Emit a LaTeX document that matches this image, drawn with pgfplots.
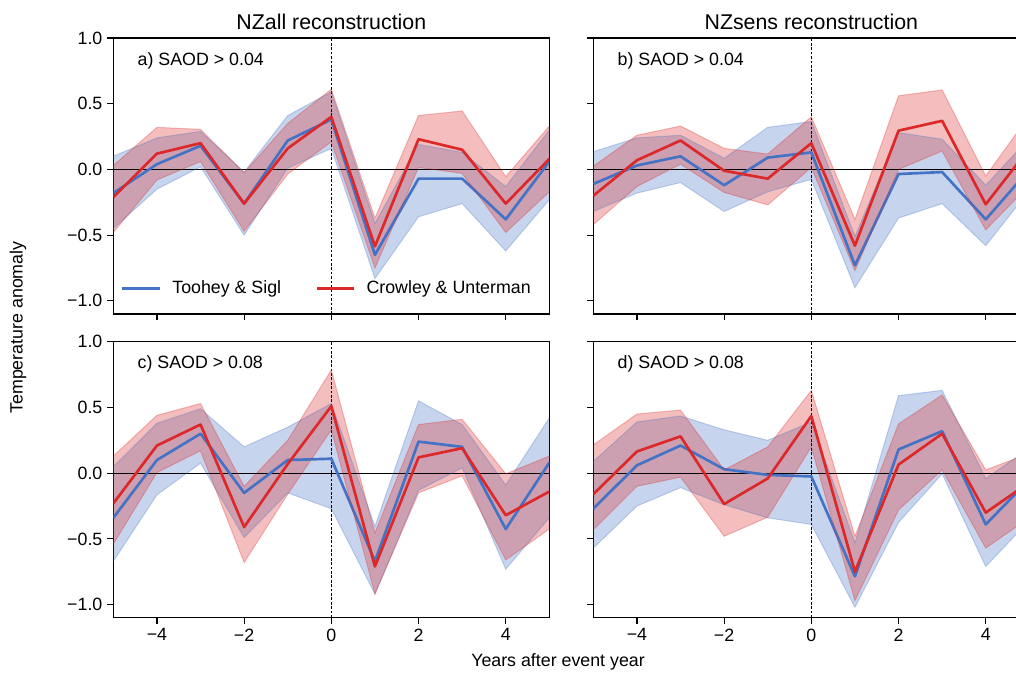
\documentclass[border=0pt]{standalone}
\usepackage{fontspec}
\setmainfont{Liberation Sans}
\usepackage{pgfplots}
\pgfplotsset{compat=1.18}
\usepackage{pgfplotstable}
\usepgfplotslibrary{fillbetween}

\definecolor{tblue}{RGB}{68,114,196}
\definecolor{cred}{RGB}{220,40,40}
\newcommand\fs{\fontsize{13.35pt}{16pt}\selectfont}
\newcommand\ft{\fontsize{16pt}{19pt}\selectfont}

% x, Toohey & Sigl (mean, low, high), Crowley & Unterman (mean, low, high)
\pgfplotstableread{
x  T      Tlo    Thi    C      Clo    Chi
-5 -0.18  -0.45  0.10   -0.21  -0.48  0.03
-4 0.04   -0.15  0.24   0.12   -0.08  0.32
-3 0.18   0.02   0.29   0.20   0.06   0.305
-2 -0.26  -0.50  -0.02  -0.26  -0.47  -0.025
-1 0.22   0.01   0.41   0.16   -0.035 0.35
0  0.38   0.16   0.59   0.40   0.21   0.61
1  -0.65  -0.83  -0.41  -0.585 -0.75  -0.37
2  -0.07  -0.36  0.19   0.23   0.015  0.41
3  -0.07  -0.26  0.13   0.15   -0.03  0.445
4  -0.38  -0.62  -0.13  -0.26  -0.48  -0.055
5  0.06   -0.23  0.30   0.08   -0.17  0.33
}\dataA
\pgfplotstableread{
x  T      Tlo    Thi    C      Clo    Chi
-5 -0.11  -0.32  0.135  -0.20  -0.42  0.025
-4 0.03   -0.18  0.24   0.07   -0.13  0.26
-3 0.10   -0.10  0.26   0.22   0.04   0.33
-2 -0.12  -0.32  0.085  -0.01  -0.175 0.16
-1 0.09   -0.17  0.32   -0.07  -0.27  0.117
0  0.13   -0.075 0.365  0.20   0.015  0.40
1  -0.73  -0.90  -0.51  -0.58  -0.77  -0.38
2  -0.035 -0.37  0.28   0.295  0.0    0.56
3  -0.02  -0.26  0.23   0.37   0.14   0.605
4  -0.38  -0.58  -0.12  -0.265 -0.46  -0.05
5  0.0    -0.16  0.24   0.16   -0.12  0.41
}\dataB
\pgfplotstableread{
x  T      Tlo    Thi    C      Clo    Chi
-5 -0.34  -0.67  0.05   -0.23  -0.54  0.13
-4 0.10   -0.165 0.38   0.21   0.005  0.44
-3 0.30   0.076  0.49   0.37   0.17   0.53
-2 -0.15  -0.49  0.20   -0.41  -0.68  -0.10
-1 0.10   -0.15  0.35   0.07   -0.16  0.25
0  0.11   -0.27  0.53   0.51   0.33   0.785
1  -0.67  -0.92  -0.405 -0.71  -0.92  -0.455
2  0.24   -0.13  0.55   0.12   -0.15  0.37
3  0.20   0.04   0.37   0.19   -0.02  0.41
4  -0.425 -0.73  -0.09  -0.32  -0.66  -0.005
5  0.08   -0.34  0.42   -0.14  -0.425 0.13
}\dataC
\pgfplotstableread{
x  T      Tlo    Thi    C      Clo    Chi
-5 -0.27  -0.57  0.09   -0.16  -0.43  0.215
-4 0.06   -0.25  0.39   0.165  -0.10  0.45
-3 0.21   -0.11  0.435  0.28   -0.03  0.48
-2 0.03   -0.24  0.33   -0.235 -0.48  0.025
-1 -0.013 -0.34  0.25   -0.04  -0.335 0.20
0  -0.025 -0.39  0.39   0.435  0.20   0.63
1  -0.785 -1.02  -0.53  -0.75  -0.97  -0.48
2  0.18   -0.375 0.59   0.065  -0.28  0.375
3  0.32   -0.005 0.63   0.30   0.025  0.595
4  -0.39  -0.71  -0.04  -0.30  -0.57  0.025
5  -0.05  -0.36  0.19   -0.07  -0.34  0.15
}\dataD

\pgfplotsset{
  panel/.style={
    scale only axis, width=327pt, height=207pt,
    xmin=-5, xmax=5, ymin=-1.1, ymax=1,
    xtick={-4,-2,0,2,4}, ytick={-1,-0.5,0,0.5,1},
    xticklabels={−4,−2,0,2,4},
    yticklabels={−1.0,−0.5,0.0,0.5,1.0},
    tick align=outside, tick pos=left,
    major tick length=4.7pt,
    tick style={black, line width=0.9pt},
    axis line style={line width=0.9pt},
    tick label style={font=\fs},
    legend columns=2,
    legend image code/.code={\draw[#1, line width=2pt] (0pt,0pt) -- (28pt,0pt);},
    legend style={at={(0.017,0.093)}, anchor=west, draw=none, fill=none,
      inner sep=0pt, font=\fs, nodes={inner sep=0pt},
      /tikz/every odd column/.append style={column sep=8.5pt},
      /tikz/every even column/.append style={column sep=25.5pt}},
  },
  nox/.style={xticklabels={}},
  noy/.style={yticklabels={}},
}

% zero line, event line, then the two bands and means
\newcommand\panel[1]{%
  \draw[black, line width=0.8pt] (axis cs:-5,0) -- (axis cs:5,0);
  \draw[black, line width=0.6pt, dash pattern=on 2pt off 1.3pt] (axis cs:0,-1.1) -- (axis cs:0,1);
  \addplot[tblue, draw opacity=0.3, line width=0.75pt, name path=tlo, forget plot] table[x=x, y=Tlo] {#1};
  \addplot[tblue, draw opacity=0.3, line width=0.75pt, name path=thi, forget plot] table[x=x, y=Thi] {#1};
  \addplot[fill=tblue, fill opacity=0.3, draw=none, forget plot] fill between[of=tlo and thi];
  \addplot[tblue, line width=2pt, line join=round] table[x=x, y=T] {#1};
  \addplot[cred, draw opacity=0.3, line width=0.75pt, name path=clo, forget plot] table[x=x, y=Clo] {#1};
  \addplot[cred, draw opacity=0.3, line width=0.75pt, name path=chi, forget plot] table[x=x, y=Chi] {#1};
  \addplot[fill=cred, fill opacity=0.3, draw=none, forget plot] fill between[of=clo and chi];
  \addplot[cred, line width=2pt, line join=round] table[x=x, y=C] {#1};
}

\begin{document}
\begin{tikzpicture}[font=\fs]

\begin{axis}[panel, nox, at={(85pt,-28.5pt)}, anchor=north west]
  \panel{\dataA}
  \node[anchor=base west] at (rel axis cs:0.045,0.902) {a) SAOD > 0.04};
  \legend{Toohey \& Sigl, Crowley \& Unterman}
\end{axis}

\begin{axis}[panel, nox, noy, at={(445pt,-28.5pt)}, anchor=north west]
  \panel{\dataB}
  \node[anchor=base west] at (rel axis cs:0.045,0.902) {b) SAOD > 0.04};
\end{axis}

\begin{axis}[panel, at={(85pt,-256.3pt)}, anchor=north west]
  \panel{\dataC}
  \node[anchor=base west] at (rel axis cs:0.045,0.902) {c) SAOD > 0.08};
\end{axis}

\begin{axis}[panel, noy, at={(445pt,-256.3pt)}, anchor=north west]
  \panel{\dataD}
  \node[anchor=base west] at (rel axis cs:0.045,0.902) {d) SAOD > 0.08};
\end{axis}

\node[anchor=base, font=\ft] at (248.5pt,-21.75pt) {NZall reconstruction};
\node[anchor=base, font=\ft] at (608.5pt,-21.75pt) {NZsens reconstruction};
\node[anchor=base, rotate=90] at (16.9pt,-245.6pt) {Temperature anomaly};
\node[anchor=base] at (418.5pt,-499.5pt) {Years after event year};

\pgfresetboundingbox
\path[use as bounding box] (0pt,0pt) rectangle (762pt,-504pt);
\end{tikzpicture}
\end{document}
